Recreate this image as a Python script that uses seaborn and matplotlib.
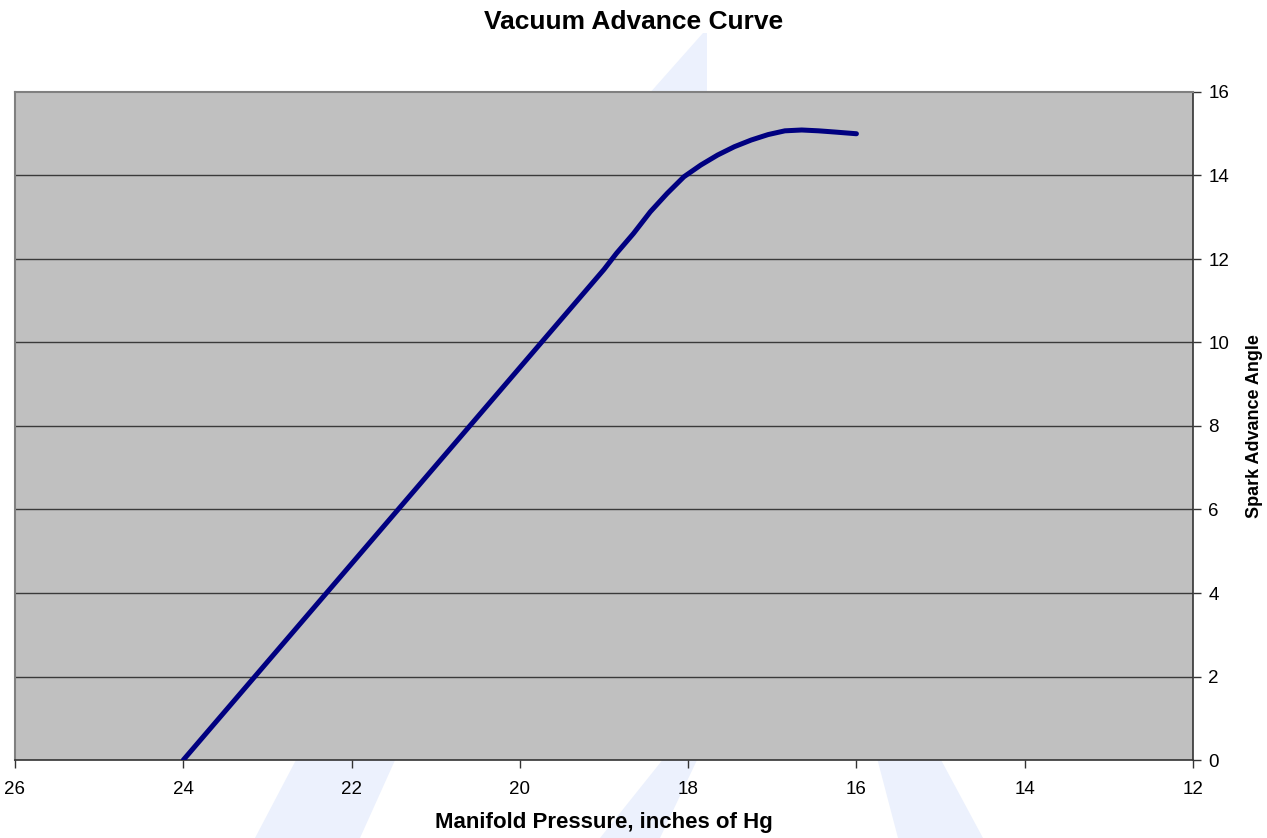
"""Vacuum advance curve, drawn in the style of an old spreadsheet chart."""

import matplotlib

matplotlib.use("Agg")

import matplotlib.pyplot as plt
import pandas as pd
import seaborn as sns
from matplotlib.patches import Polygon

# manifold pressure (inches of Hg) vs spark advance angle (deg)
pressure = [24, 23, 22, 21, 20, 19, 18.85, 18.65, 18.45, 18.25, 18.05, 17.85,
            17.65, 17.45, 17.25, 17.05, 16.85, 16.65, 16.45, 16.25, 16.0]
advance = [0, 2.35, 4.7, 7.05, 9.4, 11.75, 12.14, 12.61, 13.13, 13.57, 13.97, 14.25,
           14.49, 14.69, 14.85, 14.98, 15.07, 15.09, 15.07, 15.04, 15.0]

x_ticks = [26, 24, 22, 20, 18, 16, 14, 12]
y_ticks = [0, 2, 4, 6, 8, 10, 12, 14, 16]

W, H = 1267, 838

sns.set_style("white")
plt.rcParams["font.family"] = ["Liberation Sans", "DejaVu Sans"]
plt.rcParams["text.color"] = "black"
plt.rcParams["axes.labelcolor"] = "black"
plt.rcParams["xtick.color"] = "black"
plt.rcParams["ytick.color"] = "black"

frame = pd.DataFrame({"pressure": pressure, "advance": advance})

fig = plt.figure(figsize=(W / 100, H / 100), dpi=100)

# faint watermark stripes behind the chart (pixel coords, y from top)
watermark = [
    [(703, 33), (707, 33), (707, 95), (648, 95)],
    [(297, 758), (396, 758), (360, 838), (255, 838)],
    [(664, 758), (698, 758), (660, 838), (600, 838)],
    [(877, 758), (940, 758), (983, 838), (898, 838)],
]
for shape in watermark:
    pts = [(px / W, 1 - py / H) for px, py in shape]
    fig.patches.append(Polygon(pts, closed=True, transform=fig.transFigure,
                               facecolor="#ECF1FD", edgecolor="none", zorder=-5))

ax = fig.add_axes([15 / W, 1 - 760 / H, (1193 - 15) / W, (760 - 92) / H])
ax.set_facecolor("#C0C0C0")

sns.lineplot(data=frame, x="pressure", y="advance", sort=False, ax=ax,
             color="#000080", linewidth=3.6, solid_capstyle="round",
             solid_joinstyle="round", zorder=3)

ax.set_xlim(26, 12)
ax.set_ylim(0, 16)
ax.set_xticks(x_ticks)
ax.set_yticks(y_ticks)
ax.yaxis.tick_right()
ax.yaxis.set_label_position("right")

ax.grid(False)
for y in y_ticks[1:-1]:
    ax.axhline(y, color="#3a3a3a", linewidth=1.0, zorder=1)

for side in ["left", "top"]:
    ax.spines[side].set_color("#808080")
    ax.spines[side].set_linewidth(1.5)
for side in ["bottom", "right"]:
    ax.spines[side].set_color("#333333")
    ax.spines[side].set_linewidth(1.2)

ax.tick_params(axis="x", direction="out", length=6, width=1, color="#333333",
               labelsize=13.5, pad=9, bottom=True)
ax.tick_params(axis="y", direction="out", length=6, width=1, color="#333333",
               labelsize=13.5, pad=5, right=True, left=False)

ax.set_xlabel("Manifold Pressure, inches of Hg", fontsize=16, fontweight="bold", labelpad=10)
ax.set_ylabel("Spark Advance Angle", fontsize=13, fontweight="bold", labelpad=12)

fig.text(0.5, 1 - 22 / H, "Vacuum Advance Curve", ha="center", va="center",
         fontsize=19, fontweight="bold")

fig.savefig("out.png", dpi=100)
plt.close(fig)
